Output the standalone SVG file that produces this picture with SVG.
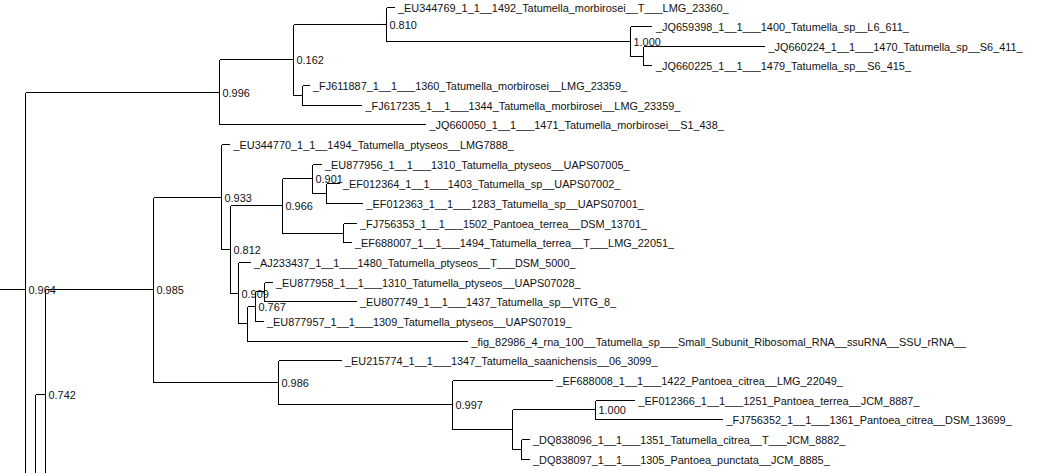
<svg xmlns="http://www.w3.org/2000/svg" width="1053" height="473" viewBox="0 0 1053 473">
<style>
.e{fill:none;stroke:#000;stroke-width:1;shape-rendering:crispEdges}
text{font-family:"Liberation Sans",Arial,Helvetica,sans-serif;font-size:10.9px;fill:#111}
</style>
<rect width="1053" height="473" fill="#fff"/>
<g id="connectors" class="e">
<path d="M0 289.5H25.5M25.5 92.5V473M25.5 92.5H219.5"/>
<path d="M35.5 394.5V473M35.5 394.5H45.5"/>
<path d="M45.5 289.5V473M45.5 289.5H153.5"/>
<path d="M219.5 59.5V124.5M219.5 59.5H293.5M219.5 124.5H426"/>
<path d="M293.5 24.5V95.5M293.5 24.5H386.5M293.5 95.5H302.5"/>
<path d="M386.5 7.5V41.5M386.5 7.5H395M386.5 41.5H630.5"/>
<path d="M630.5 26.5V56.5M630.5 26.5H652M630.5 56.5H643.5"/>
<path d="M643.5 46.5V65.5M643.5 46.5H765M643.5 65.5H652"/>
<path d="M302.5 85.5V105.5M302.5 85.5H310M302.5 105.5H362"/>
<path d="M153.5 197.5V382.5M153.5 197.5H221.5M153.5 382.5H278.5"/>
<path d="M221.5 144.5V249.5M221.5 144.5H230M221.5 249.5H230.5"/>
<path d="M230.5 205.5V293.5M230.5 205.5H282.5M230.5 293.5H238.5"/>
<path d="M282.5 178.5V233.5M282.5 178.5H312.5M282.5 233.5H343.5"/>
<path d="M312.5 164.5V193.5M312.5 164.5H322M312.5 193.5H326.5"/>
<path d="M326.5 183.5V203.5M326.5 183.5H340M326.5 203.5H363"/>
<path d="M343.5 223.5V242.5M343.5 223.5H357M343.5 242.5H352"/>
<path d="M238.5 262.5V323.5M238.5 262.5H251M238.5 323.5H247.5"/>
<path d="M247.5 306.5V341.5M247.5 306.5H255.5M247.5 341.5H468"/>
<path d="M255.5 291.5V321.5M255.5 291.5H264.5M255.5 321.5H264"/>
<path d="M264.5 282.5V301.5M264.5 282.5H273M264.5 301.5H357"/>
<path d="M278.5 360.5V404.5M278.5 360.5H342M278.5 404.5H452.5"/>
<path d="M452.5 380.5V429.5M452.5 380.5H553M452.5 429.5H512.5"/>
<path d="M512.5 409.5V449.5M512.5 409.5H595.5M512.5 449.5H521.5"/>
<path d="M595.5 400.5V419.5M595.5 400.5H635M595.5 419.5H723"/>
<path d="M521.5 439.5V459.5M521.5 439.5H530M521.5 459.5H530"/>
</g>
<g id="leaves">
<g id="leaf-EU344769"><text x="398" y="11.5">_EU344769_1_1__1492_Tatumella_morbirosei__T___LMG_23360_</text></g>
<g id="leaf-JQ659398"><text x="656" y="30.5">_JQ659398_1__1___1400_Tatumella_sp__L6_611_</text></g>
<g id="leaf-JQ660224"><text x="768.5" y="50.5">_JQ660224_1__1___1470_Tatumella_sp__S6_411_</text></g>
<g id="leaf-JQ660225"><text x="656" y="69.5">_JQ660225_1__1___1479_Tatumella_sp__S6_415_</text></g>
<g id="leaf-FJ611887"><text x="313" y="89.5">_FJ611887_1__1___1360_Tatumella_morbirosei__LMG_23359_</text></g>
<g id="leaf-FJ617235"><text x="365.5" y="109.5">_FJ617235_1__1___1344_Tatumella_morbirosei__LMG_23359_</text></g>
<g id="leaf-JQ660050"><text x="429.5" y="128.5">_JQ660050_1__1___1471_Tatumella_morbirosei__S1_438_</text></g>
<g id="leaf-EU344770"><text x="233.5" y="148.5">_EU344770_1_1__1494_Tatumella_ptyseos__LMG7888_</text></g>
<g id="leaf-EU877956"><text x="325" y="168.5">_EU877956_1__1___1310_Tatumella_ptyseos__UAPS07005_</text></g>
<g id="leaf-EF012364"><text x="343" y="187.5">_EF012364_1__1___1403_Tatumella_sp__UAPS07002_</text></g>
<g id="leaf-EF012363"><text x="366.5" y="207.5">_EF012363_1__1___1283_Tatumella_sp__UAPS07001_</text></g>
<g id="leaf-FJ756353"><text x="360" y="227.5">_FJ756353_1__1___1502_Pantoea_terrea__DSM_13701_</text></g>
<g id="leaf-EF688007"><text x="355" y="246.5">_EF688007_1__1___1494_Tatumella_terrea__T___LMG_22051_</text></g>
<g id="leaf-AJ233437"><text x="254" y="266.5">_AJ233437_1__1___1480_Tatumella_ptyseos__T___DSM_5000_</text></g>
<g id="leaf-EU877958"><text x="276" y="286.5">_EU877958_1__1___1310_Tatumella_ptyseos__UAPS07028_</text></g>
<g id="leaf-EU807749"><text x="360" y="305.5">_EU807749_1__1___1437_Tatumella_sp__VITG_8_</text></g>
<g id="leaf-EU877957"><text x="267" y="325.5">_EU877957_1__1___1309_Tatumella_ptyseos__UAPS07019_</text></g>
<g id="leaf-fig82986"><text x="471.5" y="345.5">_fig_82986_4_rna_100__Tatumella_sp___Small_Subunit_Ribosomal_RNA__ssuRNA__SSU_rRNA__</text></g>
<g id="leaf-EU215774"><text x="345" y="364.5">_EU215774_1__1___1347_Tatumella_saanichensis__06_3099_</text></g>
<g id="leaf-EF688008"><text x="556.5" y="384.5">_EF688008_1__1___1422_Pantoea_citrea__LMG_22049_</text></g>
<g id="leaf-EF012366"><text x="638.5" y="404.5">_EF012366_1__1___1251_Pantoea_terrea__JCM_8887_</text></g>
<g id="leaf-FJ756352"><text x="726.5" y="423.5">_FJ756352_1__1___1361_Pantoea_citrea__DSM_13699_</text></g>
<g id="leaf-DQ838096"><text x="533" y="443.5">_DQ838096_1__1___1351_Tatumella_citrea__T___JCM_8882_</text></g>
<g id="leaf-DQ838097"><text x="533" y="463.5">_DQ838097_1__1___1305_Pantoea_punctata__JCM_8885_</text></g>
</g>
<g id="internal-nodes">
<g id="node-C"><text x="389.5" y="29">0.810</text></g>
<g id="node-B"><text x="633.5" y="46">1.000</text></g>
<g id="node-E"><text x="296.5" y="64">0.162</text></g>
<g id="node-F"><text x="222.5" y="97">0.996</text></g>
<g id="node-P"><text x="224.5" y="202">0.933</text></g>
<g id="node-H"><text x="315.5" y="183">0.901</text></g>
<g id="node-J"><text x="285.5" y="210">0.966</text></g>
<g id="node-O"><text x="233.5" y="254">0.812</text></g>
<g id="node-N"><text x="241.5" y="298">0.909</text></g>
<g id="node-L"><text x="258.5" y="311">0.767</text></g>
<g id="node-Y"><text x="28.5" y="294">0.964</text></g>
<g id="node-V"><text x="156.5" y="294">0.985</text></g>
<g id="node-W"><text x="48.5" y="399">0.742</text></g>
<g id="node-U"><text x="281.5" y="387">0.986</text></g>
<g id="node-T"><text x="455.5" y="409">0.997</text></g>
<g id="node-Q"><text x="598.5" y="414">1.000</text></g>
</g>
</svg>
